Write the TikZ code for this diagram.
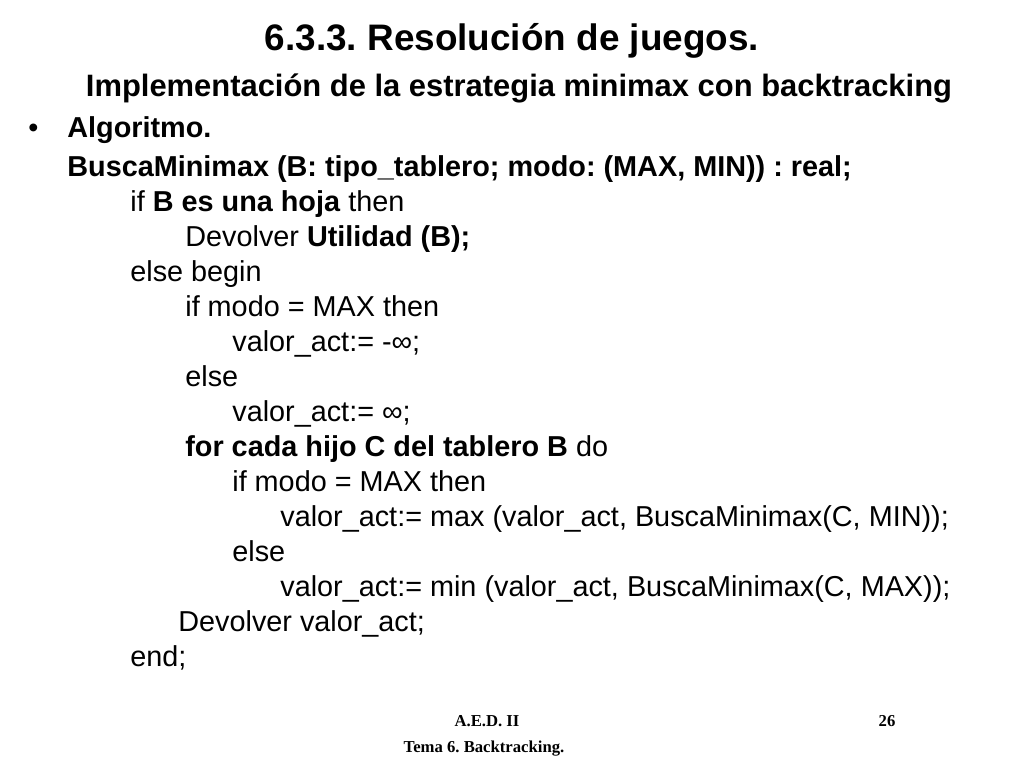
\documentclass[tikz,border=0pt]{standalone}
\usepackage{fontspec}
\setmainfont{Liberation Sans}
\newfontfamily\footfont{Liberation Serif}
\frenchspacing
\begin{document}
\begin{tikzpicture}[x=0.02cm, y=-0.02cm]
    \tikzstyle{slide line} = [anchor=base west, inner sep=0pt, font=\fontsize{16.4pt}{18pt}\selectfont]
    \tikzstyle{slide title} = [anchor=base, inner sep=0pt, font=\fontsize{21pt}{24pt}\selectfont\bfseries]
    \tikzstyle{slide subtitle} = [anchor=base, inner sep=0pt, font=\fontsize{17.6pt}{19pt}\selectfont\bfseries]
    \tikzstyle{slide foot} = [anchor=base, inner sep=0pt, font=\fontsize{9.5pt}{11pt}\footfont\bfseries]
\useasboundingbox (0,0) rectangle (1024,768);
\node[slide title] (title) at (512, 50) {6.3.3. Resolución de juegos.};
\node[slide subtitle] (subtitle) at (519, 96) {Implementación de la estrategia minimax con backtracking};
\node[slide line] (bullet) at (28, 137) {\textbullet};
\node[slide line] (alg) at (67, 137) {\textbf{Algoritmo.}};
\node[slide line] (l1) at (67, 176) {\textbf{BuscaMinimax (B: tipo\_tablero; modo: (MAX, MIN)) : real;}};
\node[slide line] (l2) at (130, 211) {if \textbf{B es una hoja} then};
\node[slide line] (l3) at (185, 246) {Devolver \textbf{Utilidad (B);}};
\node[slide line] (l4) at (130, 281) {else begin};
\node[slide line] (l5) at (185, 316) {if modo = MAX then};
\node[slide line] (l6) at (232, 351) {valor\_act:= -∞;};
\node[slide line] (l7) at (185, 386) {else};
\node[slide line] (l8) at (232, 421) {valor\_act:= ∞;};
\node[slide line] (l9) at (185, 456) {\textbf{for cada hijo C del tablero B} do};
\node[slide line] (l10) at (232, 491) {if modo = MAX then};
\node[slide line] (l11) at (280, 526) {valor\_act:= max (valor\_act, BuscaMinimax(C, MIN));};
\node[slide line] (l12) at (232, 561) {else};
\node[slide line] (l13) at (280, 596) {valor\_act:= min (valor\_act, BuscaMinimax(C, MAX));};
\node[slide line] (l14) at (178, 631) {Devolver valor\_act;};
\node[slide line] (l15) at (130, 666) {end;};
\node[slide foot] (course) at (487, 726) {A.E.D. II};
\node[slide foot] (topic) at (484, 752) {Tema 6. Backtracking.};
\node[slide foot] (page) at (887, 726) {26};
\end{tikzpicture}
\end{document}
